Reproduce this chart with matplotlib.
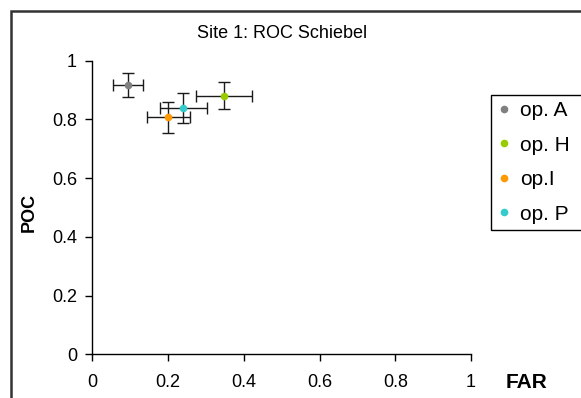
import matplotlib.pyplot as plt
from matplotlib.patches import Rectangle

plt.rcParams['font.family'] = ['Liberation Sans', 'DejaVu Sans']

# data
ops = ['op. A', 'op. H', 'op.I', 'op. P']
far = [0.094, 0.348, 0.201, 0.240]
poc = [0.917, 0.881, 0.807, 0.838]
far_err = [0.039, 0.073, 0.056, 0.062]
poc_err = [0.040, 0.046, 0.054, 0.051]
colors = ['#808080', '#99cc00', '#ff9900', '#33cccc']

fig = plt.figure(figsize=(5.81, 3.98), dpi=100)
ax = fig.add_axes([0.1589, 0.1098, 0.6518, 0.7377])

for i in range(len(ops)):
    ax.errorbar(far[i], poc[i], xerr=far_err[i], yerr=poc_err[i], fmt='none',
                ecolor='#1a1a1a', elinewidth=1, capsize=4.5, capthick=1, zorder=2)
    ax.plot(far[i], poc[i], 'o', color=colors[i], ms=5.5, mew=0, label=ops[i], zorder=3)

ax.set_xlim(0, 1)
ax.set_ylim(0, 1)
ax.set_xticks([0, 0.2, 0.4, 0.6, 0.8, 1])
ax.set_xticklabels(['0', '0.2', '0.4', '0.6', '0.8', '1'])
ax.set_yticks([0, 0.2, 0.4, 0.6, 0.8, 1])
ax.set_yticklabels(['0', '0.2', '0.4', '0.6', '0.8', '1'])
ax.spines['top'].set_visible(False)
ax.spines['right'].set_visible(False)
ax.spines['left'].set_linewidth(1)
ax.spines['bottom'].set_linewidth(1)
ax.tick_params(direction='out', length=5, width=1, labelsize=13)
ax.tick_params(axis='x', pad=9)
ax.tick_params(axis='y', pad=6)

fig.text(0.485, 0.9146, 'Site 1: ROC Schiebel', ha='center', va='center', fontsize=13)
fig.text(0.907, 0.04, 'FAR', ha='center', va='center', fontsize=15, fontweight='bold')
fig.text(0.05, 0.467, 'POC', ha='center', va='center', rotation=90, fontsize=13, fontweight='bold')

# outer chart frame, cut by the image edge
fig.patches.append(Rectangle((11 / 581, -0.1), 1.1, 1.1 - 11 / 398, transform=fig.transFigure,
                             fill=False, edgecolor='#333333', lw=1.8))

# legend frame, also cut at the right edge
fig.patches.append(Rectangle((491 / 581, 1 - 230 / 398), 0.3, 135 / 398, transform=fig.transFigure,
                             fill=False, edgecolor='black', lw=1))
leg = fig.legend(loc='upper left', bbox_to_anchor=(491 / 581, 1 - 95 / 398), frameon=False,
                 fontsize=15, handlelength=0.6, handletextpad=0.5, labelspacing=0.74,
                 borderaxespad=0, borderpad=0.3)

fig.savefig('out.png', dpi=100)
